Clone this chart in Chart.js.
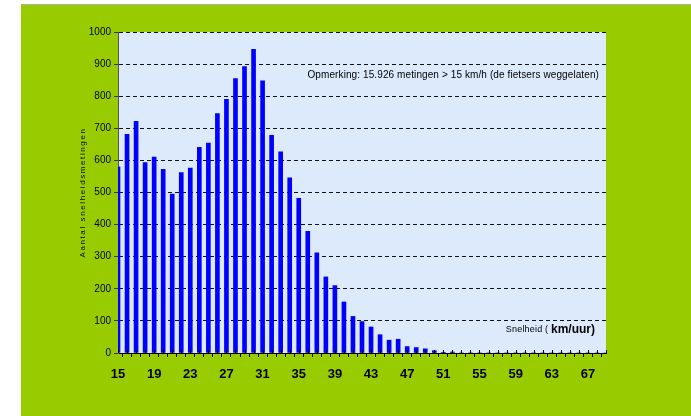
<!DOCTYPE html>
<html>
<head>
<meta charset="utf-8">
<script src="https://cdn.jsdelivr.net/npm/chart.js@4/dist/chart.umd.min.js"></script>
<style>
  html, body { margin: 0; padding: 0; background: #ffffff; }
  #wrap { width: 691px; height: 416px; position: relative; }
</style>
</head>
<body>
<div id="wrap"><canvas id="c" width="691" height="416"></canvas></div>
<script>
// ---- data ----
const speeds = [];
for (let s = 15; s <= 69; s++) speeds.push(String(s));
const counts = [
  580, 681, 722, 593, 610, 572, 495, 562, 576, 641,
  654, 746, 790, 855, 892, 946, 848, 678, 627, 546,
  482, 379, 312, 237, 210, 159, 114, 98, 81, 57,
  40, 43, 20, 17, 13, 7, 2, 3, 0, 0,
  0, 0, 0, 0, 0, 0, 0, 0, 0, 0,
  0, 0, 0, 0, 0
];
const yTitle = 'Aantal snelheidsmetingen';
const noteText = 'Opmerking: 15.926 metingen > 15 km/h (de fietsers weggelaten)';
const xTitleA = 'Snelheid ( ';
const xTitleB = 'km/uur)';

const NARROW = '"Liberation Sans Narrow", "Arial Narrow", "Liberation Sans", Arial, sans-serif';
const SANS = '"Liberation Sans", Arial, sans-serif';

const bgPlugin = {
  id: 'bg',
  beforeDraw(chart) {
    const ctx = chart.ctx;
    const a = chart.chartArea;
    ctx.save();
    ctx.fillStyle = '#ffffff';
    ctx.fillRect(0, 0, chart.width, chart.height);
    ctx.fillStyle = '#99CC00';
    ctx.fillRect(21, 4, chart.width - 21, chart.height - 4);
    ctx.fillStyle = '#a9b39a';
    ctx.fillRect(21, 4, chart.width - 21, 1);
    ctx.fillStyle = '#DCEAFC';
    ctx.fillRect(a.left, a.top, a.right - a.left, a.bottom - a.top);
    ctx.restore();
  },
  afterDraw(chart) {
    const ctx = chart.ctx;
    const a = chart.chartArea;
    const xs = chart.scales.x;
    ctx.save();
    // inner half of the crossing x tick marks
    ctx.strokeStyle = '#000';
    ctx.lineWidth = 1;
    for (let i = 0; i < speeds.length; i++) {
      const px = Math.round(xs.getPixelForTick(i)) + 0.5;
      ctx.beginPath();
      ctx.moveTo(px, a.bottom);
      ctx.lineTo(px, a.bottom - 3);
      ctx.stroke();
    }
    ctx.fillStyle = '#000';
    // y axis title (letter-spaced, rotated)
    ctx.save();
    ctx.translate(83, (a.top + a.bottom) / 2);
    ctx.rotate(-Math.PI / 2);
    ctx.font = '8px ' + SANS;
    ctx.letterSpacing = '1.6px';
    ctx.textAlign = 'center';
    ctx.textBaseline = 'middle';
    ctx.fillText(yTitle, 0, 0);
    ctx.restore();
    // note
    ctx.font = '10px ' + SANS;
    ctx.letterSpacing = '0.1px';
    ctx.textAlign = 'right';
    ctx.textBaseline = 'middle';
    ctx.fillText(noteText, a.right - 7, 75);
    // x axis title
    ctx.letterSpacing = '0px';
    ctx.font = 'bold 12px ' + NARROW;
    const wB = ctx.measureText(xTitleB).width;
    ctx.fillText(xTitleB, a.right - 11, a.bottom - 23);
    ctx.font = '9px ' + SANS;
    ctx.letterSpacing = '0.2px';
    ctx.fillText(xTitleA, a.right - 11 - wB, a.bottom - 23);
    ctx.restore();
  }
};

new Chart(document.getElementById('c'), {
  type: 'bar',
  data: {
    labels: speeds,
    datasets: [{
      data: counts,
      backgroundColor: '#0000FF',
      borderWidth: 0,
      barThickness: 4,
      clip: 0
    }]
  },
  options: {
    responsive: false,
    animation: false,
    layout: { padding: { left: 0, top: 32, right: 85, bottom: 0 } },
    plugins: { legend: { display: false }, tooltip: { enabled: false } },
    scales: {
      x: {
        offset: false,
        grid: { display: true, drawOnChartArea: false, drawTicks: true, tickLength: 4, color: '#000', tickColor: '#000' },
        border: { display: true, color: '#000', width: 1 },
        ticks: {
          autoSkip: false, maxRotation: 0, minRotation: 0, padding: 10,
          color: '#000',
          font: { family: NARROW, size: 13, weight: 'bold' },
          callback: function(v, i) { return (i % 4 === 0) ? speeds[i] : ''; }
        },
        afterFit(scale) { scale.height = 63; }
      },
      y: {
        min: 0, max: 1000,
        grid: { color: '#111', tickColor: '#333', tickLength: 4, tickBorderDash: [] },
        border: { display: true, color: '#555', width: 1, dash: [4, 3] },
        ticks: {
          stepSize: 100, padding: 3, color: '#000',
          font: { family: NARROW, size: 10 },
          callback: function(v) { return String(v); }
        },
        title: { display: false },
        afterFit(scale) { scale.width = 118; }
      }
    }
  },
  plugins: [bgPlugin]
});
</script>
</body>
</html>
